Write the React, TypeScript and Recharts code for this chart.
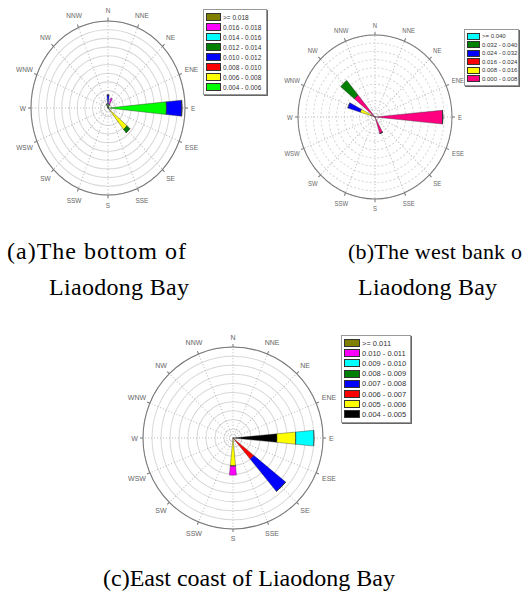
import { RadialBarChart, RadialBar, PolarGrid, PolarAngleAxis, PolarRadiusAxis } from 'recharts'

const DIRECTIONS = ['N', 'NNE', 'NE', 'ENE', 'E', 'ESE', 'SE', 'SSE', 'S', 'SSW', 'SW', 'WSW', 'W', 'WNW', 'NW', 'NNW']

// (a) bottom of Liaodong Bay - legend order, highest class first
const A_BINS = ['>= 0.018', '0.016 - 0.018', '0.014 - 0.016', '0.012 - 0.014', '0.010 - 0.012', '0.008 - 0.010', '0.006 - 0.008', '0.004 - 0.006']
const A_COLORS = ['#808000', '#ff00ff', '#00ffff', '#008000', '#0000ff', '#ff0000', '#ffff00', '#00ff00']
// segment lengths per direction (N .. NNW), in ring units
const A_LIME = [0.5, 0.4, 0, 0, 7.6, 0, 0.3, 0, 0, 0, 0, 0, 0, 0, 0, 0]
const A_YELLOW = [0, 0, 0, 0, 0, 0, 2.9, 0, 0, 0, 0, 0, 0, 0, 0, 0]
const A_BLUE = [1.0, 0, 0, 0, 2.0, 0, 0, 0, 0, 0, 0, 0, 0, 0, 0, 0]
const A_GREEN = [0, 0, 0, 0, 0, 0, 0.5, 0, 0, 0, 0, 0, 0, 0, 0, 0.5]
const A_MAGENTA = [0, 0.8, 0, 0, 0, 0, 0, 0, 0, 0, 0, 0, 0, 0, 0, 0]
const A_VALUES = [null, A_MAGENTA, null, A_GREEN, A_BLUE, null, A_YELLOW, A_LIME]

// (b) west bank of Liaodong Bay
const B_BINS = ['>= 0.040', '0.032 - 0.040', '0.024 - 0.032', '0.016 - 0.024', '0.008 - 0.016', '0.000 - 0.008']
const B_COLORS = ['#00ffff', '#008000', '#0000ff', '#ff0000', '#ffff00', '#ff0080']
const B_PINK = [0, 0, 0, 0, 8.8, 0, 0, 2.1, 0, 0, 0, 0, 0, 0.6, 3.5, 0]
const B_YELLOW = [0, 0, 0, 0, 0, 0, 0, 0, 0, 0, 0, 0, 0, 1.4, 0, 0]
const B_BLUE = [0, 0, 0, 0, 0, 0, 0, 0, 0, 0, 0, 0, 0, 1.7, 0, 0]
const B_GREEN = [0, 0, 0, 0, 0, 0, 0, 0, 0, 0, 0, 0, 0, 0, 2.3, 0]
const B_VALUES = [null, B_GREEN, B_BLUE, null, B_YELLOW, B_PINK]

// (c) east coast of Liaodong Bay
const C_BINS = ['>= 0.011', '0.010 - 0.011', '0.009 - 0.010', '0.008 - 0.009', '0.007 - 0.008', '0.006 - 0.007', '0.005 - 0.006', '0.004 - 0.005']
const C_COLORS = ['#808000', '#ff00ff', '#00ffff', '#008000', '#0000ff', '#ff0000', '#ffff00', '#000000']
const C_BLACK = [0, 0, 0, 0, 4.9, 0, 0, 0, 0, 0, 0, 0, 0, 0, 0, 0]
const C_YELLOW = [0, 0, 0, 0, 2.1, 0, 0, 0, 3.1, 0, 0, 0, 0, 0, 0, 0]
const C_RED = [0, 0, 0, 0, 0, 0, 3.0, 0, 0, 0, 0, 0, 0, 0, 0, 0]
const C_BLUE = [0, 0, 0, 0, 0, 0, 4.6, 0, 0, 0, 0, 0, 0, 0, 0, 0]
const C_CYAN = [0, 0, 0, 0, 2.0, 0, 0, 0, 0, 0, 0, 0, 0, 0, 0, 0]
const C_MAGENTA = [0, 0, 0, 0, 0, 0, 0, 0, 1.0, 0, 0, 0, 0, 0, 0, 0]
const C_VALUES = [null, C_MAGENTA, C_CYAN, null, C_BLUE, C_RED, C_YELLOW, C_BLACK]

const RINGS = 10
const compass = (i: number) => 90 - i * 22.5
const SPOKES = DIRECTIONS.map((_, i) => compass(i))

function buildRows(values: (number[] | null)[]) {
  return DIRECTIONS.map((dir, i) => {
    const row: Record<string, any> = { dir }
    values.forEach((v, k) => { row['s' + k] = v ? v[i] : 0 })
    return row
  })
}

interface RoseProps {
  values: (number[] | null)[]
  colors: string[]
  left: number
  top: number
  size: number
  cx: number
  cy: number
  radius: number
  stretch: number
  dashed?: boolean
  fontSize: number
}

function WindRose({ values, colors, left, top, size, cx, cy, radius, stretch, dashed, fontSize }: RoseProps) {
  const rows = buildRows(values)
  // the band scale puts its ticks on band edges, so labels are placed on the direction itself
  const renderTick = (p: any) => {
    const label = String(p.payload.value)
    const a = (compass(DIRECTIONS.indexOf(label)) * Math.PI) / 180
    const ux = Math.cos(a)
    const uy = -Math.sin(a)
    const hw = label.length * fontSize * 0.34
    const r = radius + 6 + hw * Math.abs(ux) + fontSize * 0.5 * Math.abs(uy)
    return (
      <g>
        <line x1={cx + ux * radius} y1={cy + uy * radius} x2={cx + ux * (radius + 3)} y2={cy + uy * (radius + 3)} stroke="#777" />
        <text x={cx + ux * r} y={cy + uy * r} textAnchor="middle" dominantBaseline="central"
          fontSize={fontSize} fill="#666" fontFamily="'Liberation Sans', Arial, sans-serif">{label}</text>
      </g>
    )
  }
  return (
    <div style={{ position: 'absolute', left, top, width: size, height: size, transform: `scaleY(${stretch})`, transformOrigin: `${cx}px ${cy}px` }}>
      <RadialBarChart width={size} height={size} cx={cx} cy={cy} innerRadius={0} outerRadius={radius}
        data={rows} layout="centric" startAngle={78.75} endAngle={-281.25} barCategoryGap="25%"
        margin={{ top: 0, right: 0, bottom: 0, left: 0 }}>
        <PolarGrid gridType="circle" radialLines={false} stroke="#d8d8d8" strokeDasharray={dashed ? '2 2' : undefined} />
        <PolarGrid gridType="circle" polarRadius={[]} polarAngles={SPOKES} stroke="#bbb" strokeDasharray="1 2" />
        <PolarAngleAxis type="category" dataKey="dir" axisLineType="circle" stroke="#777" tickLine={false} tick={renderTick} />
        <PolarRadiusAxis type="number" domain={[0, RINGS]} tickCount={RINGS + 1} axisLine={false} tick={false} />
        {values.map((v, k) => ({ v, k })).reverse().filter((e) => e.v).map(({ k }) => (
          <RadialBar key={k} dataKey={'s' + k} stackId="s" fill={colors[k]} stroke="#333" strokeWidth={0.4} isAnimationActive={false} />
        ))}
      </RadialBarChart>
    </div>
  )
}

function LegendBox({ bins, colors, left, top, width, rowH, swW, swH, fontSize }: {
  bins: string[]; colors: string[]; left: number; top: number; width: number; rowH: number; swW: number; swH: number; fontSize: number
}) {
  return (
    <div style={{ position: 'absolute', left, top, width, padding: '2px 0 2px 2px', background: '#fff', border: '1px solid #999', boxShadow: '1px 1px 0 #666', fontFamily: "'Liberation Sans', Arial, sans-serif", fontSize, color: '#333' }}>
      {bins.map((b, i) => (
        <div key={b} style={{ display: 'flex', alignItems: 'center', height: rowH, whiteSpace: 'nowrap' }}>
          <span style={{ width: swW, height: swH, background: colors[i], border: '1px solid #333', boxSizing: 'border-box', marginRight: 2, flex: 'none' }} />
          {b}
        </div>
      ))}
    </div>
  )
}

const serif = "'Liberation Serif', 'Times New Roman', serif"

export default function App() {
  return (
    <div style={{ position: 'absolute', left: 0, top: 0, width: 524, height: 597, overflow: 'hidden', background: '#fff' }}>
      <WindRose values={A_VALUES} colors={A_COLORS} left={0} top={0} size={216} cx={108} cy={108} radius={77} stretch={1.13} fontSize={6.5} />
      <WindRose values={B_VALUES} colors={B_COLORS} left={267} top={9} size={216} cx={108} cy={108} radius={77} stretch={1.065} dashed fontSize={6} />
      <WindRose values={C_VALUES} colors={C_COLORS} left={123} top={328} size={220} cx={110} cy={110} radius={90} stretch={1.01} fontSize={7} />
      <LegendBox bins={A_BINS} colors={A_COLORS} left={203} top={9} width={60} rowH={10} swW={15} swH={8} fontSize={6.5} />
      <LegendBox bins={B_BINS} colors={B_COLORS} left={464} top={29} width={51} rowH={8.5} swW={13} swH={7} fontSize={6} />
      <LegendBox bins={C_BINS} colors={C_COLORS} left={341} top={335} width={66} rowH={10.2} swW={16} swH={8} fontSize={7.5} />
      <svg width={524} height={597} style={{ position: 'absolute', left: 0, top: 0, pointerEvents: 'none' }}>
        <text x={7} y={259} fontFamily={serif} fontSize={24} textLength={179} lengthAdjust="spacing">(a)The bottom of</text>
        <text x={49} y={295} fontFamily={serif} fontSize={24} textLength={140} lengthAdjust="spacing">Liaodong Bay</text>
        <text x={348} y={259} fontFamily={serif} fontSize={22} textLength={174} lengthAdjust="spacing">(b)The west bank o</text>
        <text x={358} y={295} fontFamily={serif} fontSize={24} textLength={139} lengthAdjust="spacing">Liaodong Bay</text>
        <text x={103} y={586} fontFamily={serif} fontSize={24}>(c)East coast of Liaodong Bay</text>
      </svg>
    </div>
  )
}
